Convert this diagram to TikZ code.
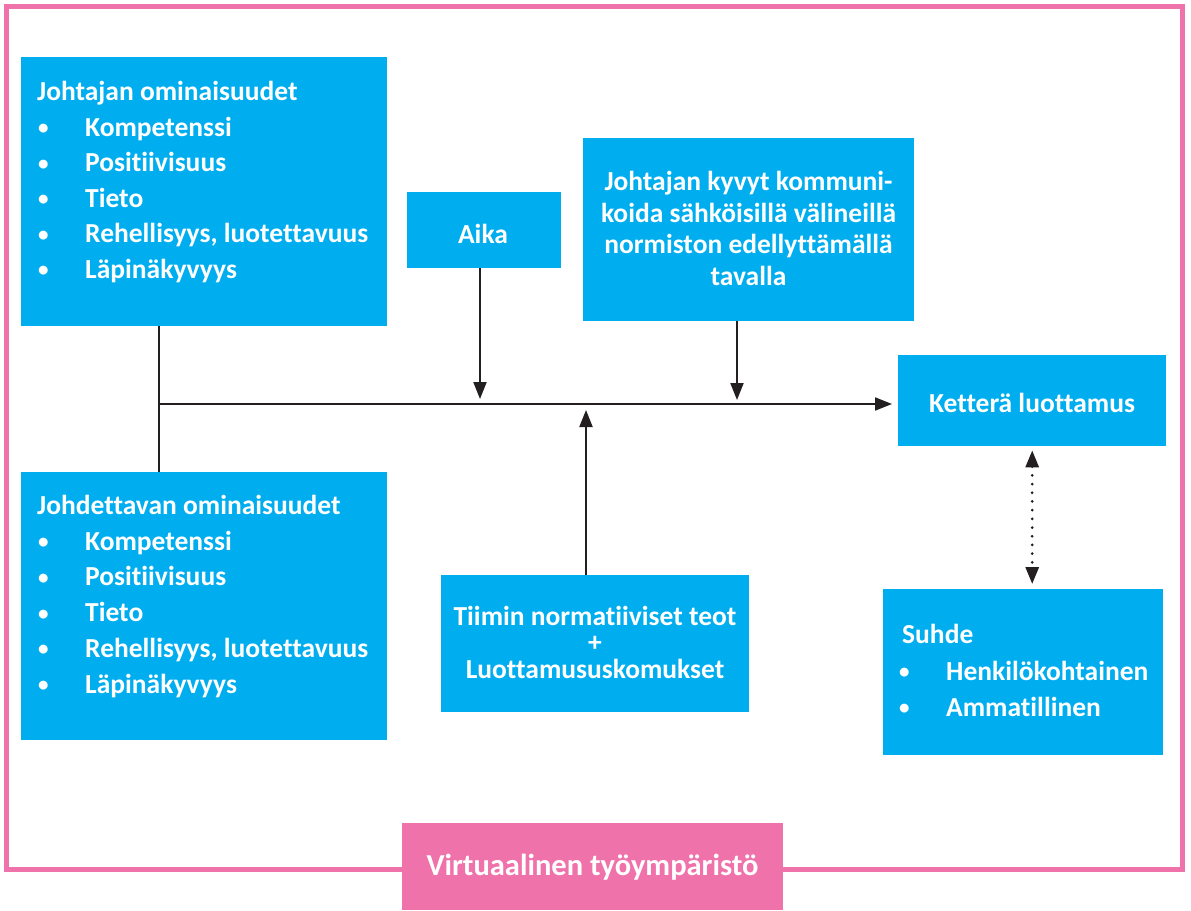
\documentclass[tikz,border=0pt]{standalone}
\usepackage{fontspec}
\setmainfont[Ligatures=NoCommon]{Carlito}
\usetikzlibrary{arrows.meta}
\definecolor{cblue}{HTML}{00AEEF}
\definecolor{cpink}{HTML}{F072AA}
\definecolor{cline}{HTML}{231F20}
\tikzset{
  box/.style={fill=cblue, draw=none, inner sep=0pt, anchor=north west},
  txt/.style={text=white, font=\bfseries\fontsize{27.5}{30}\selectfont, inner sep=0pt},
  bigtxt/.style={txt, font=\bfseries\fontsize{30.5}{33}\selectfont},
  arr/.style={draw=cline, line width=2pt, -{Triangle[length=17pt,width=13pt]}},
  ln/.style={draw=cline, line width=2pt},
  dotarr/.style={draw=cline, line width=3pt, dash pattern=on 0pt off 8.7pt, line cap=round,
     {Triangle[length=17pt,width=13pt]}-{Triangle[length=17pt,width=13pt]}},
}
\newcommand{\bul}[1]{\makebox[47pt][l]{\raisebox{1.5pt}{\fontsize{21}{21}\selectfont\textbullet}}#1}
\begin{document}
\begin{tikzpicture}[x=1pt,y=-1pt]
\useasboundingbox (0,0) rectangle (1191,910);
% frame
\draw[cpink, line width=5pt] (6.5,6.5) rectangle (1182,869.5);
% boxes
\node[box, minimum width=366pt, minimum height=269pt] (jo) at (21,57) {};
\node[box, minimum width=366pt, minimum height=268pt] (jd) at (21,472) {};
\node[box, minimum width=154pt, minimum height=76pt] (ai) at (407,192) {};
\node[box, minimum width=331pt, minimum height=183pt] (ky) at (583,138) {};
\node[box, minimum width=308pt, minimum height=137pt] (ti) at (441,575) {};
\node[box, minimum width=268pt, minimum height=91pt] (kl) at (898,355) {};
\node[box, minimum width=280pt, minimum height=166pt] (su) at (883,589) {};
\node[box, fill=cpink, minimum width=381pt, minimum height=87pt] (ve) at (402,823) {};
% texts box 1
\node[txt, anchor=base west] (jo0) at (37,100) {Johtajan ominaisuudet};
\node[txt, anchor=base west] (jo1) at (38,136) {\bul{Kompetenssi}};
\node[txt, anchor=base west] (jo2) at (38,171.5) {\bul{Positiivisuus}};
\node[txt, anchor=base west] (jo3) at (38,207) {\bul{Tieto}};
\node[txt, anchor=base west] (jo4) at (38,242.5) {\bul{Rehellisyys, luotettavuus}};
\node[txt, anchor=base west] (jo5) at (38,278) {\bul{Läpinäkyvyys}};
% texts box 2
\node[txt, anchor=base west] (jd0) at (37,514) {Johdettavan ominaisuudet};
\node[txt, anchor=base west] (jd1) at (38,550) {\bul{Kompetenssi}};
\node[txt, anchor=base west] (jd2) at (38,585.7) {\bul{Positiivisuus}};
\node[txt, anchor=base west] (jd3) at (38,621.5) {\bul{Tieto}};
\node[txt, anchor=base west] (jd4) at (38,657.2) {\bul{Rehellisyys, luotettavuus}};
\node[txt, anchor=base west] (jd5) at (38,693) {\bul{Läpinäkyvyys}};
% Aika
\node[txt, anchor=base] (ai0) at (483,243) {Aika};
% kyvyt
\node[txt, anchor=base] (ky0) at (748.5,190) {Johtajan kyvyt kommuni-};
\node[txt, anchor=base] (ky1) at (748.5,222) {koida sähköisillä välineillä};
\node[txt, anchor=base] (ky2) at (748.5,253.5) {normiston edellyttämällä};
\node[txt, anchor=base] (ky3) at (748.5,285) {tavalla};
% Tiimin
\node[txt, anchor=base] (ti0) at (595,625) {Tiimin normatiiviset teot};
\node[txt, anchor=base] (ti1) at (595,651.5) {+};
\node[txt, anchor=base] (ti2) at (595,678) {Luottamususkomukset};
% Ketterä
\node[txt, anchor=base] (kl0) at (1032,412) {Ketterä luottamus};
% Suhde
\node[txt, anchor=base west] (su0) at (902,643) {Suhde};
\node[txt, anchor=base west] (su1) at (899,680) {\bul{Henkilökohtainen}};
\node[txt, anchor=base west] (su2) at (899,716) {\bul{Ammatillinen}};
% Virtuaalinen
\node[bigtxt, anchor=base] (ve0) at (592.5,875) {Virtuaalinen työympäristö};
% connectors
\coordinate (junc) at (160,404);
\coordinate (vlx) at (158.5,0);
\coordinate (kyx) at (737,0);
\coordinate (aix) at (480,0);
\coordinate (tix) at (586,0);
\draw[ln] (jo.south -| vlx) -- (jd.north -| vlx);
\draw[arr, shorten >=6pt] (junc) -- (kl.west |- junc);
\draw[arr, shorten >=5pt] (ai.south -| aix) -- (junc -| aix);
\draw[arr, shorten >=4pt] (ky.south -| kyx) -- (junc -| kyx);
\draw[arr, shorten >=6pt] (ti.north -| tix) -- (junc -| tix);
\draw[dotarr, shorten <=4pt, shorten >=5pt] (kl.south) -- (kl.south |- su.north);
\end{tikzpicture}
\end{document}
